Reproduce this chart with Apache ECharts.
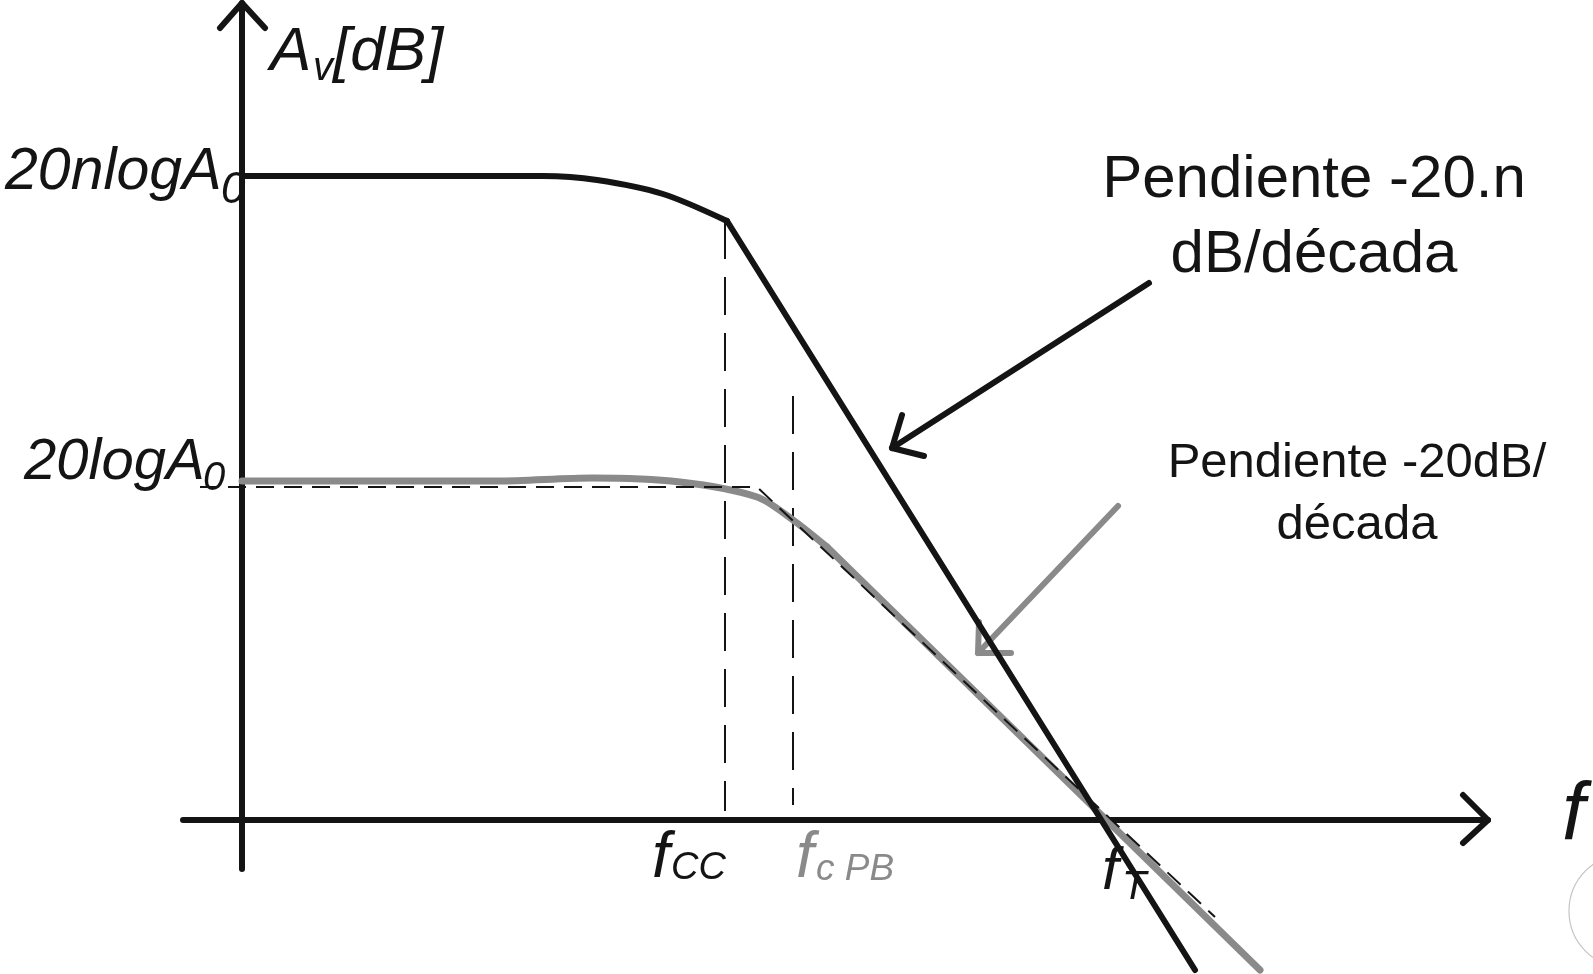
<!DOCTYPE html>
<html>
<head>
<meta charset="utf-8">
<title>Respuesta en frecuencia</title>
<script src="https://cdn.jsdelivr.net/npm/echarts@6/dist/echarts.min.js"></script>
<style>
  html, body { margin: 0; padding: 0; background: #ffffff; }
  #chart { width: 1593px; height: 974px; }
</style>
</head>
<body>
<div id="chart"></div>
<script>
// Diagram units: one unit per pixel, origin where the frequency axis meets the gain axis.
const xRange = [-59, 1246];
const yRange = [-49, 817];

// Overall response of the n cascaded stages: flat at 20·n·log A0, rounding into the knee at fCC
const multiStageKnee = [[0, 644], [301, 644], [355, 640], [421, 626], [485, 599]];
// ...then falling at -20·n dB/década past fT
const multiStageRollOff = [[485, 599], [953, -150]];

// Single compensated stage: flat at 20·log A0, gentle knee near fc PB
const singleStageKnee = [[0, 339], [255, 339], [350, 342], [438, 338], [515, 323], [551, 300], [585, 273]];
// ...then -20 dB/década down through fT
const singleStageRollOff = [[585, 273], [1018, -150]];

// Straight-line (Bode) asymptote of the single stage
const singleStageAsymptote = [[-42, 333], [515, 333], [973, -97]];

// Guide lines dropped from the corner frequencies
const fccGuide = [[483, 599], [483, 9]];
const fcpbGuide = [[551, 424], [551, 15]];

// Axis arrowheads
const gainAxisHead = [[-22, 792], [0, 817], [23, 792]];
const freqAxisHead = [[1221, 25], [1246, 0], [1221, -23]];

// Pointer arrows toward each slope
const multiPointerShaft = [[907, 537], [650, 372]];
const multiPointerHead = [[660, 405], [650, 372], [682, 364]];
const singlePointerShaft = [[876, 314], [736, 167]];
const singlePointerHead = [[737, 198], [736, 167], [769, 167]];

const INK = '#141414';
const GREY = '#8a8a8a';
const FONT = '"Liberation Sans", Arial, Helvetica, sans-serif';

function stroke(name, data, color, width, extra) {
  return Object.assign({
    name: name,
    type: 'line',
    data: data,
    symbol: 'none',
    clip: false,
    silent: true,
    lineStyle: { color: color, width: width, cap: 'round', join: 'round' }
  }, extra || {});
}

function dashed(name, data, width, dash) {
  return {
    name: name,
    type: 'line',
    data: data,
    symbol: 'none',
    clip: false,
    silent: true,
    z: 3,
    lineStyle: { color: INK, width: width, type: dash, cap: 'butt' }
  };
}

// Text pieces placed by (left edge or centre, baseline) in pixels
function text(str, x, baseline, size, opts) {
  opts = opts || {};
  const align = opts.align || 'left';
  const font = (opts.italic ? 'italic ' : '') + size + 'px ' + FONT;
  return {
    type: 'text',
    x: x,
    y: baseline - 0.35 * size,
    z: 10,
    silent: true,
    style: {
      text: str,
      x: 0,
      y: 0,
      font: font,
      fill: opts.color || INK,
      align: align,
      verticalAlign: 'middle',
      textAlign: align,
      textVerticalAlign: 'middle'
    }
  };
}

const chart = echarts.init(document.getElementById('chart'), null, { renderer: 'canvas' });

const axisCommon = {
  type: 'value',
  axisLine: { show: true, onZero: true, lineStyle: { color: INK, width: 6 } },
  axisTick: { show: false },
  axisLabel: { show: false },
  splitLine: { show: false }
};

const option = {
  animation: false,
  backgroundColor: '#ffffff',
  grid: { left: 183, right: 105, top: 3, bottom: 105, containLabel: false },
  xAxis: Object.assign({}, axisCommon, { min: xRange[0], max: xRange[1] }),
  yAxis: Object.assign({}, axisCommon, { min: yRange[0], max: yRange[1] }),
  series: [
    stroke('gainAxisHead', gainAxisHead, INK, 6),
    stroke('freqAxisHead', freqAxisHead, INK, 6),
    dashed('fccGuide', fccGuide, 2, [38, 18]),
    dashed('fcpbGuide', fcpbGuide, 2, [38, 18]),
    stroke('singleStageKnee', singleStageKnee, GREY, 7, { smooth: 0.3 }),
    stroke('singleStageRollOff', singleStageRollOff, GREY, 7),
    dashed('singleStageAsymptote', singleStageAsymptote, 2, [18, 10]),
    stroke('multiStageKnee', multiStageKnee, INK, 6, { smooth: 0.3, z: 4 }),
    stroke('multiStageRollOff', multiStageRollOff, INK, 6, { z: 4 }),
    stroke('multiPointerShaft', multiPointerShaft, INK, 6),
    stroke('multiPointerHead', multiPointerHead, INK, 6),
    stroke('singlePointerShaft', singlePointerShaft, GREY, 6),
    stroke('singlePointerHead', singlePointerHead, GREY, 6)
  ],
  graphic: [
    // gain axis title
    text('A', 270, 74, 62, { italic: true }),
    text('v', 313, 83, 40, { italic: true }),
    text('[dB]', 333, 74, 62, { italic: true }),
    // gain levels
    text('20nlogA', 5, 193, 59, { italic: true }),
    text('0', 221, 206, 44, { italic: true }),
    text('20logA', 24, 483, 58, { italic: true }),
    text('0', 203, 493, 40, { italic: true }),
    // frequency marks
    text('f', 652, 882, 64, { italic: true }),
    text('CC', 671, 882, 38, { italic: true }),
    text('f', 796, 882, 64, { italic: true, color: GREY }),
    text('c PB', 816, 883, 37, { italic: true, color: GREY }),
    text('f', 1102, 893, 60, { italic: true }),
    text('T', 1122, 902, 40, { italic: true }),
    text('f', 1562, 845, 82, { italic: true }),
    // slope notes
    text('Pendiente -20.n', 1314, 201, 60, { align: 'center' }),
    text('dB/década', 1314, 276, 60, { align: 'center' }),
    text('Pendiente -20dB/', 1357, 481, 49, { align: 'center' }),
    text('década', 1357, 543, 49, { align: 'center' }),
    // corner ring
    {
      type: 'circle',
      silent: true,
      shape: { cx: 1626, cy: 911, r: 57 },
      style: { fill: 'none', stroke: '#c4c4c4', lineWidth: 1.2 }
    }
  ]
};

chart.setOption(option);
</script>
</body>
</html>
